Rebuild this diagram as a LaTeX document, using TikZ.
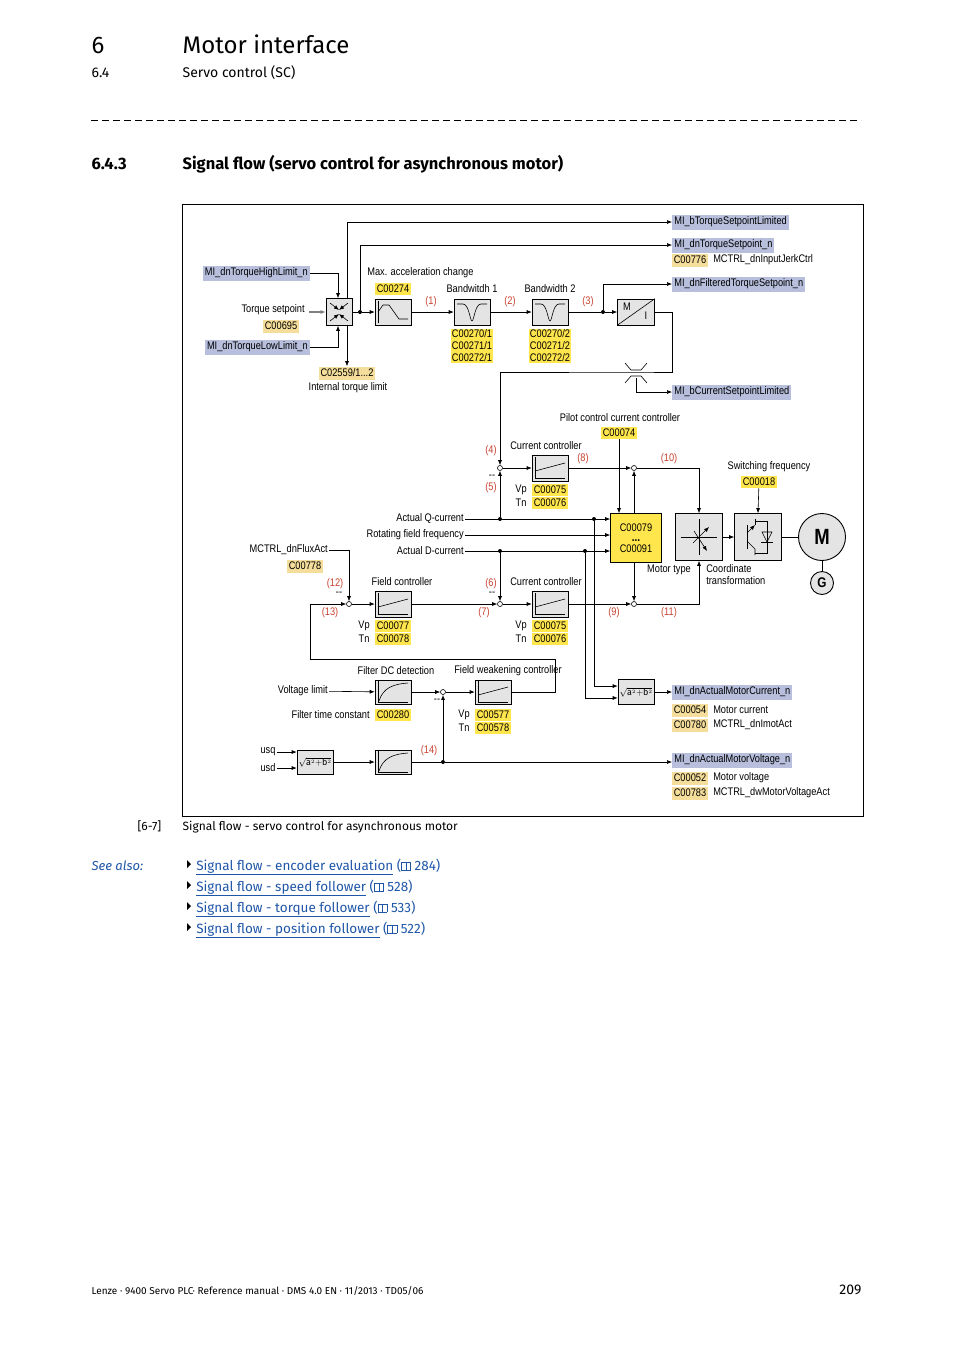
\documentclass[tikz,border=0pt]{standalone}
\usepackage{fontspec}
\setmainfont{Fira Sans}
\newfontfamily\dgf{Liberation Sans}[FakeStretch=0.84]
\usetikzlibrary{arrows.meta, positioning}
\newcommand\dg{\dgf\fontsize{11}{12}\selectfont}
\definecolor{boxgray}{HTML}{E4E4E4}
\definecolor{miblue}{HTML}{B7BFDC}
\definecolor{lyel}{HTML}{F5DE9B}
\definecolor{byel}{HTML}{FFE64D}
\definecolor{numred}{HTML}{C8412F}
\definecolor{linkblue}{HTML}{1F56A8}
\newcommand\bookicon{{\setlength\fboxsep{0pt}\setlength\fboxrule{0.6pt}\fbox{\rule{0pt}{7pt}\kern4pt}\kern-0.6pt\fbox{\rule{0pt}{7pt}\kern4pt}}}
\newcommand\sq{{\dgf\fontsize{9}{10}\selectfont$\sqrt{\mathrm{a}^{\scriptscriptstyle 2}{+}\mathrm{b}^{\scriptscriptstyle 2}}$}}
\begin{document}
\begin{tikzpicture}[x=1pt,y=-1pt, >={Latex[length=5pt,width=4pt]}, line width=0.6pt,
  blk/.style={draw, fill=boxgray, minimum width=36pt, minimum height=26pt, inner sep=0pt},
  mi/.style={fill=miblue, font=\dg, inner sep=2pt, minimum height=15pt, anchor=west},
  cl/.style={fill=lyel, font=\dg, inner sep=1.5pt, minimum height=13pt},
  cb/.style={fill=byel, font=\dg, inner sep=1.5pt, minimum height=12pt},
  txt/.style={font=\dg, inner sep=1pt},
  num/.style={text=numred, font=\dg, inner sep=0pt},
  sum/.style={circle, draw, fill=white, minimum size=5pt, inner sep=0pt},
  dot/.style={circle, fill, minimum size=4pt, inner sep=0pt},
  pi/.pic={\draw (-15,-11) -- (-15,10) -- (15,10); \draw (-15,3) -- (15,-5);},
  pt/.pic={\draw (-15,-11) -- (-15,10) -- (15,10); \draw (-14,9) .. controls (-10,-4) and (0,-8) .. (15,-9);},
  notch/.pic={\draw (-15,-8) -- (-9,-8) .. controls (-3,-8) and (-2,9) .. (0,9) .. controls (2,9) and (3,-8) .. (9,-8) -- (15,-8);},
]
\useasboundingbox (0,0) rectangle (954,1350);

% page header
\node[anchor=base west, font=\fontsize{24}{28}\selectfont] at (88,53) {6};
\node[anchor=base west, font=\fontsize{24}{28}\selectfont] at (179,53) {Motor interface};
\node[anchor=base west, font=\fontsize{14}{16}\selectfont] at (88,77) {6.4};
\node[anchor=base west, font=\fontsize{14}{16}\selectfont] at (179,77) {Servo control (SC)};
\draw[line width=1pt, dash pattern=on 7pt off 4pt] (91,120) -- (861,120);
\node[anchor=base west, font=\fontsize{16.5}{18}\selectfont\bfseries] at (88,169) {6.4.3};
\node[anchor=base west, font=\fontsize{16.5}{18}\selectfont\bfseries] at (179,169) {Signal flow (servo control for asynchronous motor)};
\draw[line width=0.8pt] (182,204) rectangle (863,816);

% torque setpoint path
\node[blk, minimum width=26pt, minimum height=27pt] (lim) at (339,312) {};
\draw[->] ([xshift=-9pt,yshift=-9pt]lim.center) -- ([yshift=-2pt]lim.center) ;
\draw[->] ([xshift=9pt,yshift=-9pt]lim.center) -- ([yshift=-2pt]lim.center);
\draw[->] ([xshift=-9pt,yshift=9pt]lim.center) -- ([yshift=2pt]lim.center);
\draw[->] ([xshift=9pt,yshift=9pt]lim.center) -- ([yshift=2pt]lim.center);
\node[dot] (j0) at (360,312) {};
\node[blk] (ramp) at (393,312) {};
\draw ([xshift=-15pt,yshift=-11pt]ramp.center) -- ([xshift=-15pt,yshift=11pt]ramp.center);
\draw ([xshift=-15pt]ramp.center) -- ([xshift=-10pt,yshift=7pt]ramp.center) -- ([xshift=-4pt,yshift=7pt]ramp.center) -- ([xshift=6pt,yshift=-7pt]ramp.center) -- ([xshift=15pt,yshift=-7pt]ramp.center);
\node[blk] (bw1) at (472,312) {};
\pic at (bw1) {notch};
\node[blk] (bw2) at (550,312) {};
\pic at (bw2) {notch};
\node[dot] (j3) at (603,312) {};
\node[blk, minimum width=37pt] (mi) at (636,312) {};
\draw (mi.south west) -- (mi.north east);
\node[txt] at (627,307) {M};
\node[txt] at (646,316) {I};

\node[mi] (tsl) at (672,222) {MI\_bTorqueSetpointLimited};
\node[mi] (tsn) at (672,245) {MI\_dnTorqueSetpoint\_n};
\node[cl, anchor=west] (c776) at (672,260) {C00776};
\node[txt, anchor=west] at ([xshift=4pt]c776.east) {MCTRL\_dnInputJerkCtrl};
\node[mi] (fts) at (672,284) {MI\_dnFilteredTorqueSetpoint\_n};
\node[mi] (csl) at (672,392) {MI\_bCurrentSetpointLimited};
\node[mi, anchor=east] (hl) at (310,273) {MI\_dnTorqueHighLimit\_n};
\node[mi, anchor=east] (ll) at (310,347) {MI\_dnTorqueLowLimit\_n};
\node[txt, anchor=east] (tsp) at (306,310) {Torque setpoint};
\node[cl] at (281,326) {C00695};
\node[cl] (c2559) at (347,373) {C02559/1...2};
\node[txt] at (348,388) {Internal torque limit};
\node[txt, anchor=west] at (366,273) {Max. acceleration change};
\node[cb] at (393,289) {C00274};
\node[txt] at (472,289) {Bandwitdh 1};
\node[txt] at (550,289) {Bandwidth 2};
\node[cb, align=center, inner sep=1pt, font=\dgf\fontsize{11}{12}\selectfont] at (472,346) {C00270/1\\C00271/1\\C00272/1};
\node[cb, align=center, inner sep=1pt, font=\dgf\fontsize{11}{12}\selectfont] at (550,346) {C00270/2\\C00271/2\\C00272/2};
\node[num] at (431,302) {(1)};
\node[num] at (510,302) {(2)};
\node[num] at (588,302) {(3)};

\coordinate (tin) at (309,312);
\coordinate (limo) at (347,298);
\coordinate (limb) at (347,325);
\coordinate (climit) at (636,372);
\coordinate (clb) at (636,378);
\draw[->, line width=1.3pt, gray] (tin) -- (lim.west);
\draw[->] (hl.east) -| ([xshift=-1pt]lim.north);
\draw[->] (ll.east) -| ([xshift=-1pt]lim.south);
\draw[->] (limo) |- (tsl.west);
\draw[->] (limb) -- (c2559.north);
\draw (lim.east) -- (j0);
\draw[->] (j0) -- (ramp.west);
\draw[->] (j0) |- (tsn.west);
\draw[->] (ramp) -- (bw1);
\draw[->] (bw1) -- (bw2);
\draw (bw2) -- (j3);
\draw[->] (j3) -- (mi);
\draw[->] (j3) |- (fts.west);
\draw[->] (clb) |- (csl.west);
% current limit symbol
\draw (625,363) -- (631,370) -- (641,370) -- (647,363);
\draw (625,383) -- (631,376) -- (641,376) -- (647,383);

% current control
\node[txt] at (620,418) {Pilot control current controller};
\node[cb] (c74) at (619,433) {C00074};
\node[txt] at (546,446) {Current controller};
\node[sum] (s4) at (500,468) {};
\node[blk] (cc1) at (550,468) {};
\pic at (cc1) {pi};
\node[sum] (s10) at (634,468) {};
\node[txt] at (521,490) {Vp}; \node[cb] at (550,490) {C00075};
\node[txt] at (521,503) {Tn}; \node[cb] at (550,503) {C00076};
\node[num] at (491,451) {(4)};
\node[num] at (491,488) {(5)};
\node[txt] at (492,477) {--};
\node[num] at (583,459) {(8)};
\node[num] at (669,459) {(10)};
\draw[->] (mi.east) -- ++(17,0) |- (climit) -| (s4.north);

\node[draw, fill=byel, minimum width=51pt, minimum height=49pt, align=center, font=\dg, inner sep=0pt] (ctl) at (636,538) {C00079\\[-2pt]\textbf{\large ...}\\[-1pt]C00091};
\node[blk, minimum width=47pt, minimum height=47pt] (ct) at (699,537) {};
\draw (ct.center) ++(0,-18) -- ++(0,36);
\draw ([xshift=-18pt]ct.center) -- ([xshift=18pt]ct.center);
\draw[->] ([xshift=-6pt,yshift=-6pt]ct.center) -- ([xshift=10pt,yshift=10pt]ct.center);
\draw[->] ([xshift=-5pt,yshift=6pt]ct.center) -- ([xshift=8pt,yshift=-14pt]ct.center);
\node[blk, minimum width=47pt, minimum height=47pt] (inv) at (758,537) {};
\draw ([xshift=-11pt,yshift=-12pt]inv.center) -- ([xshift=-11pt,yshift=12pt]inv.center);
\draw ([xshift=-11pt,yshift=-4pt]inv.center) -- ([xshift=-3pt,yshift=-12pt]inv.center) -- ([xshift=-3pt,yshift=-18pt]inv.center);
\draw[->] ([xshift=-11pt,yshift=4pt]inv.center) -- ([xshift=-3pt,yshift=12pt]inv.center);
\draw ([xshift=-3pt,yshift=12pt]inv.center) -- ([xshift=-3pt,yshift=18pt]inv.center);
\draw ([xshift=-3pt,yshift=-16pt]inv.center) -- ([xshift=9pt,yshift=-16pt]inv.center) -- ([xshift=9pt,yshift=16pt]inv.center) -- ([xshift=-3pt,yshift=16pt]inv.center);
\draw ([xshift=3pt,yshift=-5pt]inv.center) -- ([xshift=15pt,yshift=-5pt]inv.center);
\draw ([xshift=4pt,yshift=5pt]inv.center) -- ([xshift=14pt,yshift=5pt]inv.center) -- ([xshift=9pt,yshift=-5pt]inv.center) -- cycle;
\node[circle, draw, fill=boxgray, minimum size=47pt, line width=0.9pt, font=\dgf\fontsize{22}{22}\selectfont\bfseries, inner sep=0pt] (mot) at (822,537) {M};
\node[circle, draw, fill=boxgray, minimum size=23pt, line width=0.9pt, font=\dgf\fontsize{14}{14}\selectfont\bfseries, inner sep=0pt] (gen) at (822,583) {G};
\node[txt] at (769,467) {Switching frequency};
\node[cb] (c18) at (759,482) {C00018};
\node[txt] at (669,570) {Motor type};
\node[txt, align=left, anchor=north west] at (705,563) {Coordinate\\transformation};

\draw[->] (c74) -- (c74 |- ctl.north);
\draw[->] (ctl.north -| s10) -- (s10);
\draw[->] (s4) -- (cc1);
\draw[->] (cc1) -- (s10);
\draw[->] (s10) -| (ct.north);
\draw[->] (ct) -- (inv);
\draw (inv) -- (mot);
\draw (mot) -- (gen);
\draw[->] (c18) -- (inv.north);

\node[txt, anchor=east] (aq) at (465,519) {Actual Q-current};
\node[txt, anchor=east] (rf) at (465,535) {Rotating field frequency};
\node[txt, anchor=east] (ad) at (465,551) {Actual D-current};
\node[dot] (dq1) at (500,519) {};
\node[dot] (dq2) at (594,519) {};
\node[dot] (dd1) at (500,551) {};
\node[dot] (dd2) at (585,551) {};
\draw[->] (aq.east) -- (aq.east -| ctl.west);
\draw[->] (rf.east) -- (rf.east -| ctl.west);
\draw[->] (ad.east) -- (ad.east -| ctl.west);
\draw[->] (dq1) -- (s4);

% flux and d-current control
\node[txt, anchor=east] (flux) at (329,550) {MCTRL\_dnFluxAct};
\node[cl] at (305,566) {C00778};
\node[sum] (s12) at (349,604) {};
\node[txt] at (402,582) {Field controller};
\node[blk] (fc) at (393,604) {};
\pic at (fc) {pi};
\node[txt] at (364,626) {Vp}; \node[cb] at (393,626) {C00077};
\node[txt] at (364,639) {Tn}; \node[cb] at (393,639) {C00078};
\node[sum] (s6) at (500,604) {};
\node[txt] at (546,582) {Current controller};
\node[blk] (cc2) at (550,604) {};
\pic at (cc2) {pi};
\node[txt] at (521,626) {Vp}; \node[cb] at (550,626) {C00075};
\node[txt] at (521,639) {Tn}; \node[cb] at (550,639) {C00076};
\node[sum] (s9) at (634,604) {};
\node[num] at (335,584) {(12)};
\node[txt] at (339,594) {--};
\node[num] at (330,613) {(13)};
\node[num] at (491,584) {(6)};
\node[txt] at (492,594) {--};
\node[num] at (484,613) {(7)};
\node[num] at (614,613) {(9)};
\node[num] at (669,613) {(11)};
\draw[->] (flux.east) -| (s12.north);
\draw[->] (s12) -- (fc);
\draw[->] (fc) -- (s6);
\draw[->] (dd1) -- (s6);
\draw[->] (s6) -- (cc2);
\draw[->] (cc2) -- (s9);
\draw[->] (ctl.south -| s9) -- (s9);
\draw[->] (s9) -| (ct.south);

% actual motor current
\node[blk, minimum height=25pt] (rq1) at (636,692) {\sq};
\node[mi] (amc) at (672,692) {MI\_dnActualMotorCurrent\_n};
\node[cl, anchor=west] (c54) at (672,710) {C00054};
\node[txt, anchor=west] at ([xshift=4pt]c54.east) {Motor current};
\node[cl, anchor=west] (c780) at (672,725) {C00780};
\node[txt, anchor=west] at ([xshift=4pt]c780.east) {MCTRL\_dnImotAct};
\draw[->] (dq2) |- (rq1.162);
\draw[->] (dd2) |- (rq1.198);
\draw[->] (rq1) -- (amc);

% field weakening
\node[txt] at (396,671) {Filter DC detection};
\node[blk, minimum height=24pt] (fdc) at (393,692) {};
\pic at (fdc) {pt};
\node[txt, anchor=east] (vl) at (329,691) {Voltage limit};
\node[txt, anchor=east] at (371,715) {Filter time constant};
\node[cb] at (393,715) {C00280};
\node[sum] (s14) at (443,692) {};
\node[txt] at (437,701) {--};
\node[txt] at (508,671) {Field weakening controller};
\node[blk, minimum height=24pt] (fw) at (493,692) {};
\pic at (fw) {pi};
\node[txt] at (464,715) {Vp}; \node[cb] at (493,715) {C00577};
\node[txt] at (464,728) {Tn}; \node[cb] at (493,728) {C00578};
\coordinate (fbr) at (555,659);
\coordinate (fbl) at (310,659);
\draw[->] (vl) -- (fdc);
\draw[->] (fdc) -- (s14);
\draw[->] (s14) -- (fw);
\draw[->] (fw.east) -| (fbr) -- (fbl) |- (s12.west);

% actual motor voltage
\node[txt] (usq) at (268,752) {usq};
\node[txt] (usd) at (268,768) {usd};
\node[blk, minimum height=24pt] (ru) at (315,762) {\sq};
\node[blk, minimum height=24pt] (ptv) at (393,762) {};
\pic at (ptv) {pt};
\node[dot] (d14) at (443,762) {};
\node[num] at (429,751) {(14)};
\node[mi] (amv) at (672,760) {MI\_dnActualMotorVoltage\_n};
\node[cl, anchor=west] (c52) at (672,778) {C00052};
\node[txt, anchor=west] at ([xshift=4pt]c52.east) {Motor voltage};
\node[cl, anchor=west] (c783) at (672,793) {C00783};
\node[txt, anchor=west] at ([xshift=4pt]c783.east) {MCTRL\_dwMotorVoltageAct};
\draw[->] (usq.east) -- (usq.east -| ru.west);
\draw[->] (usd.east) -- (usd.east -| ru.west);
\draw[->] (ru) -- (ptv);
\draw (ptv) -- (d14);
\draw[->, line width=0.9pt] (d14) -- (s14);
\draw[->] (d14) -- (d14 -| amv.west);

% caption, see also, footer
\node[anchor=base west, font=\fontsize{12}{14}\selectfont] at (134,830) {[6-7]};
\node[anchor=base west, font=\fontsize{12}{14}\selectfont] at (179,830) {Signal flow - servo control for asynchronous motor};
\node[anchor=base west, font=\fontsize{13}{15}\selectfont\itshape, text=linkblue] at (88,870) {See also:};
\foreach \y/\t/\p in {870/encoder evaluation/284, 891/speed follower/528, 912/torque follower/533, 933/position follower/522}{
  \fill (187,\y-10) -- (191,\y-6) -- (187,\y-2) -- cycle;
  \node[anchor=base west, font=\fontsize{13.5}{15}\selectfont, text=linkblue, inner sep=0pt] at (196,\y) {\underline{Signal flow - \t} (\raisebox{0.5pt}{\bookicon}~\p)};
}
\node[anchor=base west, font=\fontsize{10}{12}\selectfont] at (88,1294) {Lenze · 9400 Servo PLC· Reference manual · DMS 4.0 EN · 11/2013 · TD05/06};
\node[anchor=base east, font=\fontsize{14}{16}\selectfont] at (865,1294) {209};
\end{tikzpicture}
\end{document}
